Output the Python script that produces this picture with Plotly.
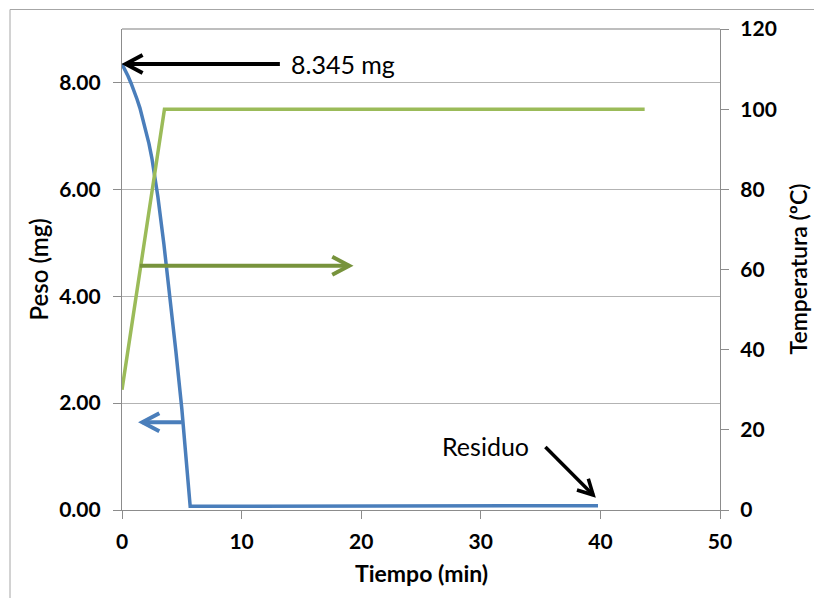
import math
import plotly.graph_objects as go

# ---- data ----
tiempo_peso = [0, 0.25, 0.5, 0.75, 1.0, 1.25, 1.5, 1.75, 2.0, 2.25, 2.5, 3.0, 3.5, 4.0,
               4.5, 5.0, 5.5, 5.7, 10, 15, 20, 25, 30, 35, 39.8]
peso = [8.345, 8.24, 8.12, 7.99, 7.85, 7.69, 7.52, 7.32, 7.10, 6.86, 6.58, 5.86, 4.98, 4.02,
        2.98, 1.90, 0.58, 0.07, 0.07, 0.07, 0.075, 0.075, 0.08, 0.08, 0.08]
tiempo_temp = [0, 3.55, 43.7]
temperatura = [30, 100, 100]

x_ticks = [0, 10, 20, 30, 40, 50]
y_ticks = [0, 2, 4, 6, 8]
y2_ticks = [0, 20, 40, 60, 80, 100, 120]

# ---- layout geometry ----
W, H = 814, 598
ML, MR, MT, MB = 122, 94, 29, 88
PW, PH = W - ML - MR, H - MT - MB
XR = (0, 50)
YR = (0, 9)
kx = PW / (XR[1] - XR[0])
ky = PH / (YR[1] - YR[0])

BLUE = "#4a7ebb"
GREEN = "#9bbb59"
DGREEN = "#77933c"
FONT = "Lato"

fig = go.Figure()
fig.add_trace(go.Scatter(x=tiempo_peso, y=peso, mode="lines",
                         line=dict(color=BLUE, width=3.5),
                         yaxis="y", showlegend=False))
fig.add_trace(go.Scatter(x=tiempo_temp, y=temperatura, mode="lines",
                         line=dict(color=GREEN, width=3.5), yaxis="y2", showlegend=False))

shapes = []


def arrow(tail, tip, color, width, arm=(17, 9)):
    """Line with open chevron head; coordinates in x / y (left axis) data units."""
    tx, ty = tail
    hx, hy = tip
    dxp = (hx - tx) * kx
    dyp = -(hy - ty) * ky
    L = math.hypot(dxp, dyp)
    ux, uy = dxp / L, dyp / L
    nx, ny = -uy, ux
    pts = []
    for s in (1, -1):
        px = -ux * arm[0] + s * nx * arm[1]
        py = -uy * arm[0] + s * ny * arm[1]
        pts.append((hx + px / kx, hy - py / ky))
    shapes.append(dict(type="line", xref="x", yref="y", x0=tx, y0=ty, x1=hx, y1=hy,
                       line=dict(color=color, width=width)))
    shapes.append(dict(type="path", xref="x", yref="y",
                       path=f"M {pts[0][0]} {pts[0][1]} L {hx} {hy} L {pts[1][0]} {pts[1][1]}",
                       line=dict(color=color, width=width)))


arrow((13.2, 8.345), (0.3, 8.345), "black", 4)
arrow((1.5, 4.57), (19.0, 4.57), DGREEN, 4)
arrow((5.0, 1.64), (1.7, 1.64), BLUE, 4)
arrow((35.4, 1.18), (39.4, 0.28), "black", 3.5, arm=(15, 8))

# outer chart border and plot top border
shapes.append(dict(type="rect", xref="paper", yref="paper",
                   x0=(10 - ML) / PW, x1=1.3, y0=-0.4, y1=(PH + MT - 9.5) / PH,
                   line=dict(color="#a6a6a6", width=1), layer="below"))
shapes.append(dict(type="line", xref="paper", yref="paper", x0=0, x1=1, y0=1, y1=1,
                   line=dict(color="#7f7f7f", width=1.2)))

annotations = [
    dict(text="8.345 mg", x=14.0, y=8.345, xref="x", yref="y", xanchor="left",
         yanchor="middle", showarrow=False, font=dict(family=FONT, size=25, color="black")),
    dict(text="Residuo", x=26.6, y=1.2, xref="x", yref="y", xanchor="left",
         yanchor="middle", showarrow=False, font=dict(family=FONT, size=25, color="black")),
    dict(text="<b>Tiempo (min)</b>", x=0.5, y=(510 - 573) / PH, xref="paper", yref="paper",
         xanchor="center", yanchor="middle", showarrow=False,
         font=dict(family=FONT, size=23, color="black")),
    dict(text="Peso (mg)", x=(38 - ML) / PW, y=0.5, xref="paper", yref="paper",
         xanchor="center", yanchor="middle", textangle=-90, showarrow=False,
         font=dict(family=FONT, size=24, color="black", weight=600)),
    dict(text="Temperatura (ºC)", x=(797 - ML) / PW, y=0.5, xref="paper", yref="paper",
         xanchor="center", yanchor="middle", textangle=-90, showarrow=False,
         font=dict(family=FONT, size=23, color="black", weight=600)),
]

tickfont = dict(family=FONT, size=21, color="black", weight="bold")
axis_common = dict(zeroline=False, showline=True, linecolor="#8c8c8c", linewidth=1.2,
                   ticks="outside", ticklen=8, tickcolor="#8c8c8c", tickfont=tickfont)
fig.update_layout(
    width=W, height=H,
    margin=dict(l=ML, r=MR, t=MT, b=MB, pad=0),
    paper_bgcolor="white", plot_bgcolor="white",
    xaxis=dict(range=list(XR), tickvals=x_ticks, showgrid=False, ticklabelstandoff=5,
               **axis_common),
    yaxis=dict(range=list(YR), tickvals=y_ticks, tickformat=".2f", showgrid=True,
               gridcolor="#b3b3b3", gridwidth=1, ticklabelstandoff=8, **axis_common),
    yaxis2=dict(range=[0, 120], tickvals=y2_ticks, overlaying="y", side="right",
                showgrid=False, ticklabelstandoff=7, **axis_common),
    shapes=shapes,
    annotations=annotations,
    showlegend=False,
)

fig.write_html("out.html")
